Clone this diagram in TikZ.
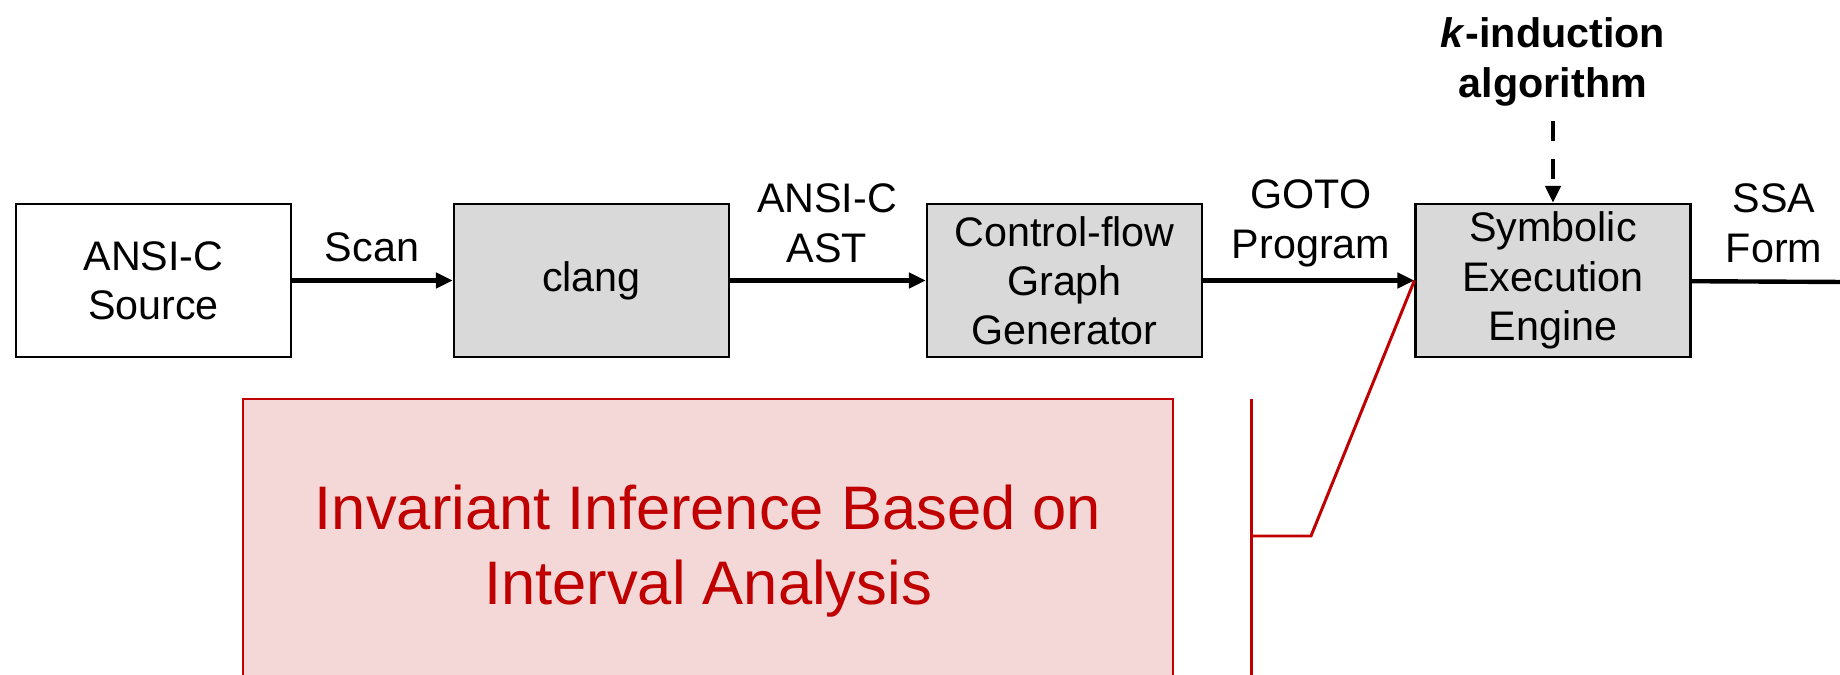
\documentclass[tikz,border=0pt]{standalone}
\usepackage{fontspec}
\setmainfont{Liberation Sans}
\usepackage{tikz}
\usetikzlibrary{arrows.meta}
\definecolor{boxgrey}{HTML}{D9D9D9}
\definecolor{darkred}{HTML}{C00000}
\definecolor{lightpink}{HTML}{F4D8D8}

\begin{document}
\begin{tikzpicture}[x=0.02cm, y=-0.02cm,
		stagebox/.style={draw, line width=1.3pt, minimum width=5.5cm, minimum height=3.06cm, align=center, font=\fontsize{23.5}{28}\selectfont},
		flowlabel/.style={align=center, inner sep=0pt, font=\fontsize{23.5}{28.5}\selectfont},
		flow/.style={line width=2.5pt, -{Triangle[length=0.34cm, width=0.3cm]}},
		callout/.style={darkred, line width=1.7pt}]
						\useasboundingbox (0, 0) rectangle (1840, 675);
						\node[stagebox, fill=lightpink, draw=darkred, line width=1.1pt, minimum width=18.6cm, minimum height=6.1cm, text=darkred, font=\fontsize{35}{42.7}\selectfont] (interval) at (708, 551.5){Invariant Inference Based on\\Interval Analysis};
						\node[stagebox] (source) at (153.5, 280.5){ANSI-C\\Source};
						\node[stagebox, fill=boxgrey] (clang) at (591.5, 280.5){clang};
						\node[stagebox, fill=boxgrey] (cfg) at (1064.5, 280.5){Control-flow\\Graph\\Generator};
						\node[stagebox, fill=boxgrey] (see) at (1553, 280.5){Symbolic\\Execution\\Engine};
						\node[flowlabel, font=\fontsize{23.5}{28.5}\selectfont\bfseries] (kind) at (1553, 61.5){\textit{k}-induction\\algorithm};
							\node[flowlabel] (scan) at (372, 247){Scan};
							\node[flowlabel] (ast) at (827, 223){ANSI-C\\AST};
							\node[flowlabel] (goto) at (1311, 223){GOTO\\Program};
							\node[flowlabel] (ssa) at (1774, 223){SSA\\Form};
						\coordinate (out) at (1845, 282);
						\draw[flow] (source) -- (clang);
						\draw[flow] (clang) -- (cfg);
						\draw[flow] (cfg) -- (see);
						\draw[line width=2.5pt] (see) -- (out);
						\draw[flow, dash pattern=on 0.4cm off 0.36cm] ([yshift=-0.3cm]kind.south) -- (see);
						\coordinate (bartop) at (1251, 399);
						\coordinate (barbot) at (1251, 690);
						\coordinate (barmid) at (1251, 536);
						\coordinate (knee) at (1311, 536);
							\draw[callout] (bartop) -- (barbot);
							\draw[callout] (barmid) -- (knee) -- (see.west);
					\end{tikzpicture}
\end{document}
